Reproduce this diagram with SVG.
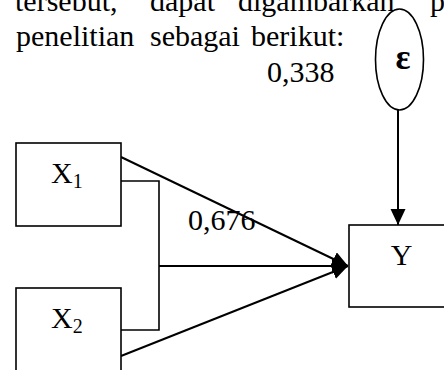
<svg xmlns="http://www.w3.org/2000/svg" width="444" height="370" viewBox="0 0 444 370">
  <defs>
    <style>
      .t { font-family: "Liberation Serif", "Times New Roman", serif; font-size: 30px; fill: #000; }
      .sub { font-family: "Liberation Serif", "Times New Roman", serif; font-size: 20px; fill: #000; }
      .box { fill: #fff; stroke: #000; stroke-width: 1.6; }
      .ln { fill: none; stroke: #000; stroke-width: 2; }
      .br { fill: none; stroke: #000; stroke-width: 1.6; }
    </style>
    <marker id="ah" markerUnits="userSpaceOnUse" markerWidth="18" markerHeight="16" refX="16" refY="7.5" orient="auto">
      <path d="M0,0 L16,7.5 L0,15 Z" fill="#000"/>
    </marker>
  </defs>
  <rect width="444" height="370" fill="#fff"/>

  <g id="paragraph">
    <text class="t" x="15" y="11">tersebut,</text>
    <text class="t" x="150" y="11">dapat</text>
    <text class="t" x="238" y="11">digambarkan</text>
    <text class="t" x="430" y="11">p</text>
    <text class="t" x="16" y="46">penelitian</text>
    <text class="t" x="150" y="46">sebagai</text>
    <text class="t" x="251" y="46">berikut:</text>
  </g>

  <g id="connectors">
    <line class="ln" x1="398" y1="110" x2="398" y2="225" marker-end="url(#ah)"/>
    <line class="ln" x1="121" y1="157" x2="348" y2="266" marker-end="url(#ah)"/>
    <line class="ln" x1="121" y1="356" x2="348" y2="266" marker-end="url(#ah)"/>
    <polyline class="br" points="121,181 159,181 159,330 121,330"/>
    <line class="ln" x1="159" y1="266" x2="348" y2="266" marker-end="url(#ah)"/>
    <text class="t" x="267" y="82">0,338</text>
    <text class="t" x="188" y="230">0,676</text>
  </g>

  <g id="node-e">
    <ellipse cx="399.5" cy="59.5" rx="24" ry="50.5" fill="#fff" stroke="#000" stroke-width="1.6"/>
    <text x="403" y="69" text-anchor="middle" font-family="Liberation Serif, serif" font-size="35" font-weight="bold">ε</text>
  </g>

  <g id="node-x1">
    <rect class="box" x="16" y="143" width="105" height="83"/>
    <text class="t" x="51" y="183">X<tspan class="sub" dy="5">1</tspan></text>
  </g>

  <g id="node-x2">
    <rect class="box" x="16" y="288" width="105" height="95"/>
    <text class="t" x="51" y="328">X<tspan class="sub" dy="5">2</tspan></text>
  </g>

  <g id="node-y">
    <rect class="box" x="349" y="225" width="110" height="82"/>
    <text class="t" x="401.5" y="265" text-anchor="middle">Y</text>
  </g>
</svg>
